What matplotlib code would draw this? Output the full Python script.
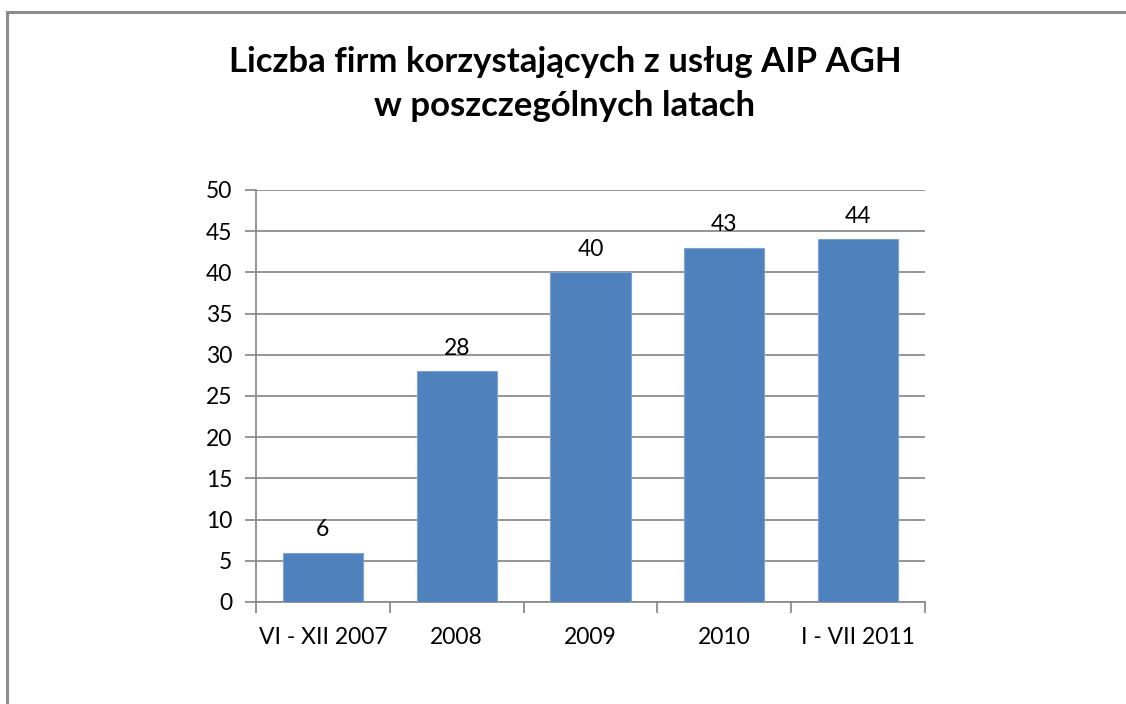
import matplotlib
matplotlib.use("Agg")
import matplotlib.pyplot as plt
from matplotlib.lines import Line2D

plt.rcParams['font.family'] = ['Lato', 'DejaVu Sans']

categories = ["VI - XII 2007", "2008", "2009", "2010", "I - VII 2011"]
values = [6, 28, 40, 43, 44]
title = "Liczba firm korzystających z usług AIP AGH\nw poszczególnych latach"

fig = plt.figure(figsize=(11.26, 7.04), dpi=100)
fig.patch.set_facecolor('white')

# outer frame (top and left edges visible)
fig.add_artist(Line2D([7/1126, 1.0], [1-12/704, 1-12/704], color='#8c8c8c', lw=2.2, transform=fig.transFigure))
fig.add_artist(Line2D([7/1126, 7/1126], [0, 1-12/704], color='#8c8c8c', lw=2.2, transform=fig.transFigure))

ax = fig.add_axes([256/1126, 1-602/704, (925-256)/1126, (602-190)/704])
x = list(range(len(categories)))
bars = ax.bar(x, values, width=0.6, color='#4F81BD', edgecolor='#7FA3D0', linewidth=0.8, zorder=3)

ax.set_xlim(-0.5, len(categories) - 0.5)
ax.set_ylim(0, 50)
ax.set_yticks(range(0, 51, 5))
ax.yaxis.grid(True, color='#8c8c8c', linewidth=1.3, zorder=0)
ax.set_axisbelow(True)

for s in ['top', 'right']:
    ax.spines[s].set_visible(False)
for s in ['left', 'bottom']:
    ax.spines[s].set_color('#8c8c8c')
    ax.spines[s].set_linewidth(1.3)

ax.tick_params(axis='y', length=8, width=1.3, color='#8c8c8c', labelsize=16.5, pad=9, direction='out')
ax.set_xticks(x)
ax.set_xticklabels(categories, fontsize=16.5)
ax.tick_params(axis='x', length=0, pad=18)
ax.set_xticks([i - 0.5 for i in range(len(categories) + 1)], minor=True)
ax.tick_params(axis='x', which='minor', length=8, width=1.3, color='#8c8c8c')

for xi, v in zip(x, values):
    ax.annotate(str(v), (xi, v), xytext=(0, 9), textcoords='offset points',
                ha='center', va='bottom', fontsize=16.5)

fig.text(565/1126, 1-84/704, title, ha='center', va='center', fontsize=25,
         fontweight='bold', linespacing=1.45)

fig.savefig('out.png', dpi=100, facecolor='white')
